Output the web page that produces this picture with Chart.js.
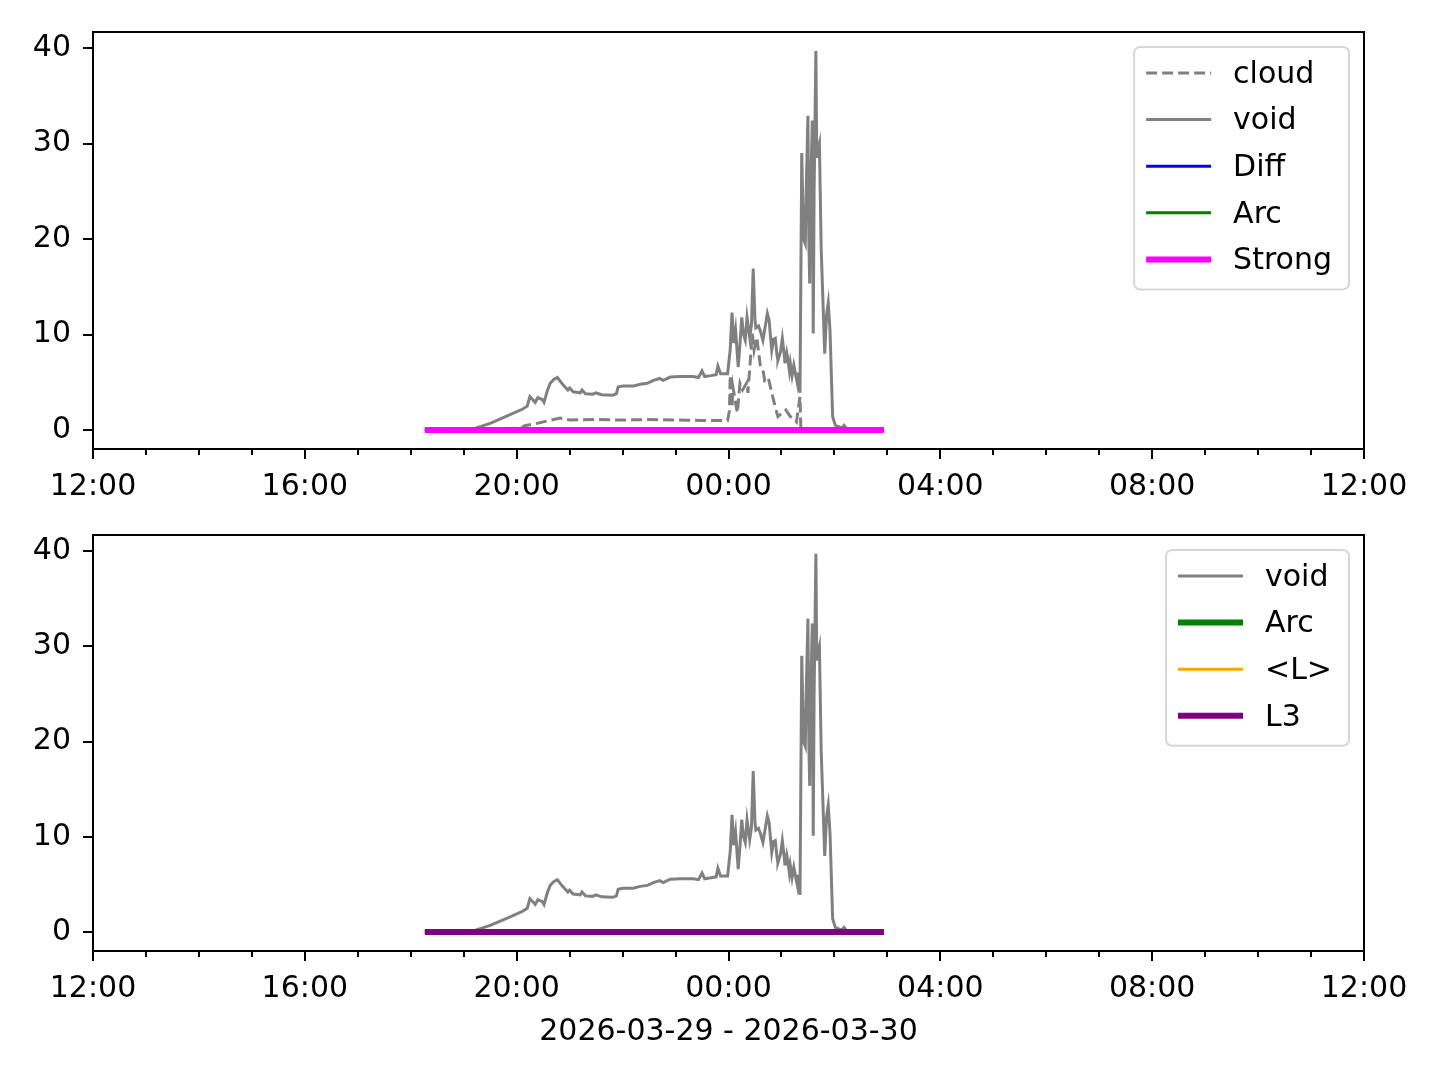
<!DOCTYPE html>
<html>
<head>
<meta charset="utf-8">
<script src="https://cdn.jsdelivr.net/npm/chart.js@4.4.1/dist/chart.umd.min.js"></script>
<style>
  html, body { margin: 0; padding: 0; background: #fff; }
  #wrap { position: relative; width: 1440px; height: 1080px; }
  canvas { position: absolute; left: 0; }
</style>
</head>
<body>
<div id="wrap">
  <canvas id="topChart" width="1440" height="505" style="top:0px"></canvas>
  <canvas id="bottomChart" width="1440" height="575" style="top:505px"></canvas>
</div>
<script>
// values, times are clock times from 12:00 on day one
const voidTimes = [
  '18:16', '19:10', '19:30', '19:50', '20:07', '20:12', '20:15', '20:18', '20:21', '20:24',
  '20:26', '20:29', '20:31', '20:35', '20:38', '20:42', '20:46', '20:52', '20:58', '21:00',
  '21:04', '21:12', '21:14', '21:18', '21:26', '21:30', '21:36', '21:49', '21:53', '21:55',
  '22:00', '22:12', '22:20', '22:28', '22:35', '22:42', '22:46', '22:54', '23:05', '23:20',
  '23:26', '23:30', '23:33', '23:40', '23:46', '23:48', '23:51', '23:59', '00:02', '00:04',
  '00:06', '00:08', '00:11', '00:13', '00:15', '00:17', '00:19', '00:21', '00:24', '00:26',
  '00:28', '00:30', '00:31', '00:34', '00:36', '00:39', '00:41', '00:44', '00:46', '00:49',
  '00:51', '00:53', '00:55', '00:56', '00:59', '01:01', '01:03', '01:04', '01:06', '01:07',
  '01:09', '01:10', '01:12', '01:14', '01:15', '01:18', '01:19', '01:21', '01:23', '01:25',
  '01:27', '01:28', '01:30', '01:31', '01:32', '01:33', '01:35', '01:36', '01:37', '01:39',
  '01:40', '01:42', '01:43', '01:45', '01:49', '01:51', '01:53', '01:55', '01:58', '02:01',
  '02:06', '02:08', '02:11', '02:14', '02:30', '02:56'
];
const voidValues = [
  0, 0.1, 0.7, 1.5, 2.2, 2.5, 3.5, 3.2, 2.9, 3.4,
  3.3, 3.2, 2.9, 4.2, 4.9, 5.3, 5.5, 4.8, 4.2, 4.4,
  4.0, 3.9, 4.2, 3.8, 3.75, 3.9, 3.7, 3.65, 3.8, 4.5,
  4.6, 4.6, 4.8, 4.9, 5.2, 5.4, 5.2, 5.55, 5.6, 5.6,
  5.5, 6.2, 5.6, 5.7, 5.8, 6.7, 5.9, 5.9, 8.5, 12.3,
  9.1, 10.5, 6.6, 9.0, 11.8, 10.0, 9.4, 11.8, 9.7, 11.0,
  16.9, 11.5, 10.7, 10.9, 10.4, 9.4, 10.5, 12.2, 11.5, 8.35,
  9.5, 9.6, 7.8, 7.3, 8.2, 9.6, 8.0, 7.0, 8.1, 7.6,
  6.2, 7.0, 5.7, 6.8, 6.3, 4.9, 6.0, 3.9, 29.0, 20.0,
  19.5, 25.0, 32.9, 20.0, 15.35, 25.0, 32.4, 10.1, 25.0, 39.7,
  28.5, 29.6, 30.0, 19.0, 8.0, 12.0, 13.3, 10.4, 1.4, 0.5,
  0.3, 0.2, 0.5, 0.1, 0, 0
];

const cloudTimes = [
  '18:16', '19:10', '20:05', '20:09', '20:23', '20:49', '21:00', '21:30', '22:00', '22:30',
  '23:00', '23:30', '23:59', '00:01', '00:02', '00:04', '00:05', '00:10', '00:13', '00:16',
  '00:21', '00:22', '00:27', '00:29', '00:32', '00:36', '00:39', '00:41', '00:45', '00:49',
  '00:53', '00:56', '01:01', '01:05', '01:10', '01:13', '01:17', '01:21', '01:22', '02:56'
];
const cloudValues = [
  0, 0, 0.2, 0.45, 0.7, 1.25, 1.05, 1.1, 1.05, 1.1,
  1.05, 1.0, 1.0, 2.0, 5.75, 2.4, 4.5, 1.8, 4.9, 4.2,
  5.0, 3.9, 10.1, 8.35, 9.7, 6.8, 6.3, 5.2, 5.5, 3.9,
  2.4, 1.4, 1.8, 2.1, 1.4, 1.25, 0.85, 3.5, 0, 0
];

// the other series sit at zero over the whole run
const flatTimes = ['18:16', '02:56'];
const flatValues = [0, 0];

const yTickStep = 10;
const xTickStepHours = 4;
const dateLabel = '2026-03-29 - 2026-03-30';

const toHours = (t) => {
  const [h, m] = t.split(':').map(Number);
  return ((h - 12 + 24) % 24) + m / 60;
};
const toPoints = (times, values) => times.map((t, i) => ({ x: toHours(t), y: values[i] }));

Chart.defaults.font.family = "'DejaVu Sans', sans-serif";
Chart.defaults.font.size = 30;
Chart.defaults.color = '#000';

const line = (label, times, values, color, width, dash) => ({
  label: label,
  data: toPoints(times, values),
  borderColor: color,
  backgroundColor: color,
  borderWidth: width,
  borderDash: dash || [],
  pointRadius: 0,
  tension: 0,
  fill: false
});

// minor hour ticks and the black frame round the plot
const framePlugin = {
  id: 'frame',
  afterDatasetsDraw(chart) {
    const { ctx, chartArea } = chart;
    const x = chart.scales.x;
    ctx.save();
    ctx.strokeStyle = '#000';
    ctx.lineWidth = 2;
    ctx.beginPath();
    for (let h = 0; h <= 24; h++) {
      if (h % xTickStepHours === 0) continue;
      const px = Math.round(x.getPixelForValue(h));
      ctx.moveTo(px, chartArea.bottom);
      ctx.lineTo(px, chartArea.bottom + 6);
    }
    ctx.stroke();
    ctx.strokeRect(chartArea.left, chartArea.top, chartArea.right - chartArea.left, chartArea.bottom - chartArea.top);
    ctx.restore();
  }
};

// legend box in the upper right corner, like matplotlib's
const legendPlugin = {
  id: 'cornerLegend',
  afterDraw(chart) {
    const { ctx, chartArea } = chart;
    const sets = chart.data.datasets;
    ctx.save();
    ctx.font = "30px 'DejaVu Sans', sans-serif";
    const textW = Math.max(...sets.map(d => ctx.measureText(d.label).width));
    const rowH = 46.6;
    const w = 12 + 65 + 24 + textW + 15;
    const h = 27 + rowH * (sets.length - 1) + 29;
    const right = chartArea.right - 15;
    const top = chartArea.top + 15;
    const left = right - w;

    ctx.beginPath();
    ctx.roundRect(left, top, w, h, 6);
    ctx.fillStyle = 'rgba(255,255,255,0.8)';
    ctx.fill();
    ctx.strokeStyle = '#d6d6d6';
    ctx.lineWidth = 2;
    ctx.stroke();

    sets.forEach((d, i) => {
      const cy = top + 26 + i * rowH;
      ctx.beginPath();
      ctx.setLineDash(d.borderDash || []);
      ctx.strokeStyle = d.borderColor;
      ctx.lineWidth = d.borderWidth;
      ctx.moveTo(left + 12, cy);
      ctx.lineTo(left + 77, cy);
      ctx.stroke();
      ctx.setLineDash([]);
      ctx.fillStyle = '#000';
      ctx.textBaseline = 'middle';
      ctx.fillText(d.label, left + 99, cy + 2);
    });
    ctx.restore();
  }
};

const makeOptions = (xHeight, padding, title) => ({
  responsive: false,
  animation: false,
  devicePixelRatio: 1,
  layout: { padding: padding },
  plugins: { legend: { display: false }, tooltip: { enabled: false } },
  scales: {
    x: {
      type: 'linear',
      min: 0,
      max: 24,
      afterFit: (s) => { s.height = xHeight; },
      grid: { drawOnChartArea: false, tickLength: 10, color: '#000', lineWidth: 2 },
      border: { display: false },
      ticks: {
        stepSize: xTickStepHours,
        autoSkip: false,
        maxRotation: 0,
        padding: 10,
        callback: (v) => String((12 + v) % 24).padStart(2, '0') + ':00'
      },
      title: title ? { display: true, text: title, padding: { top: 0, bottom: 0 } } : { display: false }
    },
    y: {
      min: -1.985,
      max: 41.68,
      afterFit: (s) => { s.width = 93; },
      grid: { drawOnChartArea: false, tickLength: 10, color: '#000', lineWidth: 2 },
      border: { display: false },
      ticks: { stepSize: yTickStep, includeBounds: false, padding: 12 }
    }
  }
});

// later datasets are drawn on top, as in the source figure
const stack = (sets) => sets.map((d, i) => Object.assign(d, { order: sets.length - i }));

new Chart(document.getElementById('topChart'), {
  type: 'line',
  data: {
    datasets: stack([
      line('cloud', cloudTimes, cloudValues, '#808080', 3, [11, 5]),
      line('void', voidTimes, voidValues, '#808080', 3),
      line('Diff', flatTimes, flatValues, '#0000ff', 3),
      line('Arc', flatTimes, flatValues, '#008000', 3),
      line('Strong', flatTimes, flatValues, '#ff00ff', 6)
    ])
  },
  options: makeOptions(56, { top: 32, right: 76, left: 0, bottom: 0 }, null),
  plugins: [framePlugin, legendPlugin]
});

new Chart(document.getElementById('bottomChart'), {
  type: 'line',
  data: {
    datasets: stack([
      line('void', voidTimes, voidValues, '#808080', 3),
      line('Arc', flatTimes, flatValues, '#008000', 6),
      line('<L>', flatTimes, flatValues, '#ffa500', 3),
      line('L3', flatTimes, flatValues, '#800080', 6)
    ])
  },
  options: makeOptions(99, { top: 30, right: 76, left: 0, bottom: 30 }, dateLabel),
  plugins: [framePlugin, legendPlugin]
});
</script>
</body>
</html>
